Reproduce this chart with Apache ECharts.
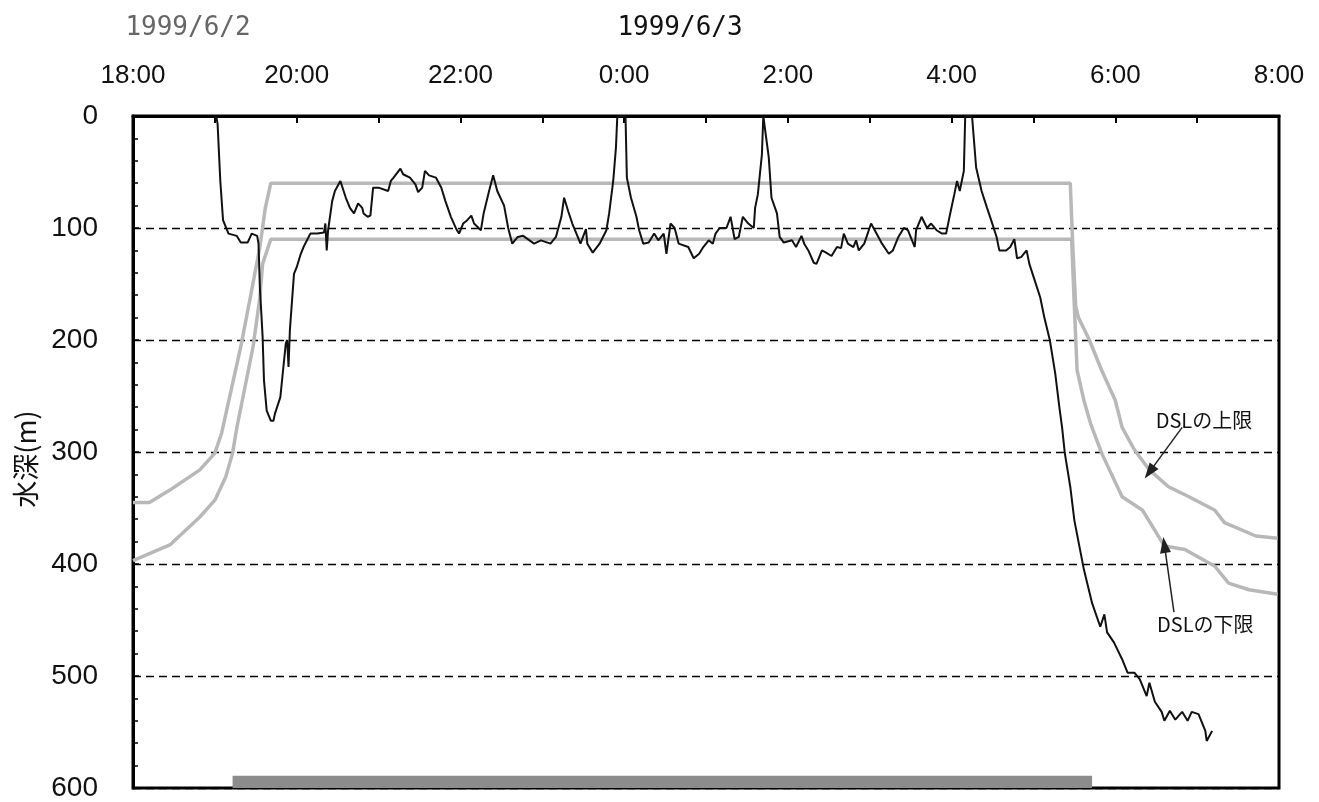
<!DOCTYPE html>
<html>
<head>
<meta charset="utf-8">
<script src="https://cdn.jsdelivr.net/npm/echarts@6/dist/echarts.min.js"></script>
<style>
html,body{margin:0;padding:0;background:#fff;}
#chart{width:1319px;height:802px;}
</style>
</head>
<body>
<div id="chart"></div>
<script>
// Time values are minutes after 18:00 on 1999/6/2; depth in metres.
const tickHours = ['18:00','20:00','22:00','0:00','2:00','4:00','6:00','8:00'];
const dateLabels = ['1999/6/2','1999/6/3'];
const yAxisName = '水深(m)';

const fishTime = [61,62,64,66,70,76,79,84,87,91,92,93,95,96,98,101,103,104,108,110,112,113,114,115,118,120,123,125,130,135,140,141,142,143,146,148,152,156,159,162,165,168,169,172,174,176,180,187,189,191,196,198,203,207,209,212,214,217,222,226,229,233,237,239,242,245,248,250,255,257,261,264,267,272,275,278,282,286,294,299,306,310,314,316,319,322,326,328,332,333,337,342,347,349,352,354,355,361,362,365,369,371,374,378,382,385,389,391,394,397,400,407,411,415,418,422,425,427,430,435,438,441,444,447,451,455,456,458,461,462,463,466,468,472,474,477,483,486,490,492,495,499,501,505,508,512,516,519,521,524,528,530,532,536,541,545,549,554,557,561,565,568,573,574,578,582,585,589,593,596,599,602,604,606,609,610,615,618,622,626,629,633,635,640,643,646,648,651,655,657,661,665,668,672,676,679,681,683,687,690,697,703,709,712,714,719,725,729,734,738,743,745,749,754,756,760,764,769,773,776,781,786,787,791];
const fishDepth = [0,7,58,93,105,107,113,113,105,107,114,153,197,236,263,272,272,266,251,227,203,200,224,191,141,135,123,117,105,105,104,96,120,102,76,67,58,73,82,87,78,82,87,90,89,64,64,67,58,55,47,52,55,61,68,64,49,53,55,64,76,90,101,105,96,93,89,96,102,87,67,53,67,80,100,114,108,107,114,111,114,108,90,73,85,96,108,114,101,114,122,114,102,87,58,28,0,0,55,73,90,102,114,113,105,111,105,123,96,100,114,117,127,123,117,111,114,105,100,100,90,110,108,90,96,100,82,70,34,0,0,37,73,87,108,113,111,117,107,114,120,131,132,120,122,125,117,118,105,114,117,111,120,114,96,105,114,123,120,108,100,102,117,102,90,100,96,102,105,105,87,70,58,67,49,0,0,46,67,82,93,108,120,120,117,110,127,126,120,132,147,162,180,200,230,260,278,301,331,361,405,435,456,445,461,470,485,497,497,503,518,506,523,532,540,531,539,532,540,532,534,549,558,549];

const dslUpperTime  = [0,12,27,49,60,65,79,86,93,97,101,687,689,691,693,701,710,720,725,734,745,759,774,793,800,823,839];
const dslUpperDepth = [345,345,334,316,301,283,206,162,117,82,60,60,120,170,180,200,227,254,278,298,316,331,340,352,363,375,377];

const dslLowerTime  = [0,27,49,60,68,73,76,88,93,95,101,688,690,692,697,702,710,725,740,749,756,771,793,803,818,839];
const dslLowerDepth = [397,383,358,343,322,301,279,206,162,132,110,110,170,227,254,275,301,340,352,370,384,387,402,417,423,427];

const nightStart = 73, nightEnd = 703;
const upperNote = {text:'DSLの上限', at:[785,272], from:[769,278], to:[745,318]};
const lowerNote = {text:'DSLの下限', at:[786,454], from:[763,443], to:[756,383]};

const zip = (a,b) => a.map((v,i)=>[v,b[i]]);
const font = "'Liberation Sans', Arial, 'Noto Sans CJK JP', sans-serif";
const mono = "'DejaVu Sans Mono', 'Liberation Mono', monospace";
const cjk = "'Noto Sans CJK JP', 'Liberation Sans', sans-serif";

const chart = echarts.init(document.getElementById('chart'));
chart.setOption({
  animation:false,
  backgroundColor:'#fff',
  grid:{left:133, top:116, right:40, bottom:13, show:true, borderColor:'#000', borderWidth:3, backgroundColor:'transparent'},
  xAxis:{
    type:'value', position:'top', min:0, max:840, interval:60,
    axisLine:{show:true, lineStyle:{color:'#000', width:3}},
    axisTick:{show:true, inside:true, length:7, lineStyle:{color:'#000', width:2}},
    axisLabel:{
      margin:27, fontSize:26, color:'#111', fontFamily:font,
      formatter:v => { const h=v/60; return h%2===0 ? tickHours[h/2] : ''; }
    },
    splitLine:{show:false}
  },
  yAxis:{
    type:'value', inverse:true, min:0, max:600, interval:100,
    axisLine:{show:true, lineStyle:{color:'#000', width:3}},
    axisTick:{show:true, inside:true, length:6, lineStyle:{color:'#000', width:1.5}},
    minorTick:{show:true, splitNumber:5, length:5, lineStyle:{color:'#000', width:1.5}},
    axisLabel:{margin:35, fontSize:28, color:'#111', fontFamily:font},
    splitLine:{show:true, lineStyle:{color:'#000', width:1.4, type:[8,5]}}
  },
  graphic:[
    {type:'text', x:188, y:28, style:{text:dateLabels[0], font:'26px '+mono, fill:'#666', align:'center', verticalAlign:'middle'}},
    {type:'text', x:680, y:28, style:{text:dateLabels[1], font:'26px '+mono, fill:'#111', align:'center', verticalAlign:'middle'}},
    {type:'text', x:26, y:459, rotation:Math.PI/2, style:{text:yAxisName, font:'27px '+cjk, fill:'#111', align:'center', verticalAlign:'middle'}}
  ],
  series:[
    {
      type:'line', name:'DSLの上限', data:zip(dslUpperTime, dslUpperDepth), showSymbol:false, symbol:'none',
      lineStyle:{color:'#b8b8b8', width:3.5}, z:2, silent:true,
      markLine:{silent:true, symbol:['none','triangle'], symbolSize:[11,16],
        lineStyle:{color:'#222', width:1.5, type:'solid'}, label:{show:false},
        data:[[{coord:upperNote.from},{coord:upperNote.to}]]},
      markPoint:{silent:true, symbol:'circle', symbolSize:1, itemStyle:{color:'rgba(0,0,0,0)'},
        label:{show:true, position:'inside', formatter:upperNote.text, fontSize:20, color:'#111', fontFamily:cjk},
        data:[{coord:upperNote.at}]}
    },
    {
      type:'line', name:'DSLの下限', data:zip(dslLowerTime, dslLowerDepth), showSymbol:false, symbol:'none',
      lineStyle:{color:'#b8b8b8', width:3.5}, z:2, silent:true,
      markLine:{silent:true, symbol:['none','triangle'], symbolSize:[11,16],
        lineStyle:{color:'#222', width:1.5, type:'solid'}, label:{show:false},
        data:[[{coord:lowerNote.from},{coord:lowerNote.to}]]},
      markPoint:{silent:true, symbol:'circle', symbolSize:1, itemStyle:{color:'rgba(0,0,0,0)'},
        label:{show:true, position:'inside', formatter:lowerNote.text, fontSize:20, color:'#111', fontFamily:cjk},
        data:[{coord:lowerNote.at}]}
    },
    {
      type:'line', name:'水深', data:zip(fishTime, fishDepth), showSymbol:false, symbol:'none',
      lineStyle:{color:'#111', width:2}, z:3, silent:true,
      markArea:{silent:true, itemStyle:{color:'#8c8c8c'},
        data:[[{xAxis:nightStart, yAxis:589},{xAxis:nightEnd, yAxis:600}]]}
    }
  ]
});
</script>
</body>
</html>
